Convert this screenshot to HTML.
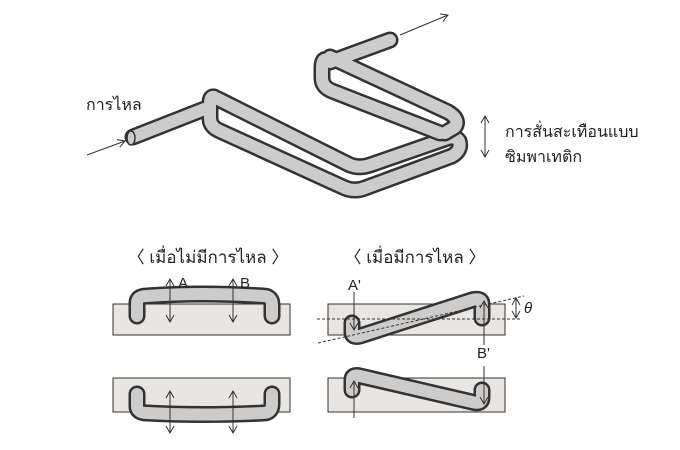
<!DOCTYPE html>
<html><head><meta charset="utf-8"><style>
body{margin:0;background:#fff}
svg{display:block}
text{font-family:"Liberation Sans","DejaVu Sans",sans-serif;fill:#222}
</style></head><body>
<svg width="680" height="450" viewBox="0 0 680 450" xmlns="http://www.w3.org/2000/svg">
<defs>
<marker id="ah" markerWidth="10" markerHeight="10" refX="8" refY="5" orient="auto" markerUnits="userSpaceOnUse">
<path d="M1,1 L8,5 L1,9" fill="none" stroke="#333" stroke-width="1"/></marker>
</defs>
<g fill="none" stroke-linecap="round" stroke-linejoin="round">
<path d="M133,137 L207,108 M214,97 Q210,96 210,104 L210,118 Q210,127 220,131 L345,188 Q355,192 365,188 L452,156 Q462,150 459,141 Q455,135 445,139 L370,165 Q358,169 348,164 L220,100 Q210,94 210,104" stroke="#333" stroke-width="17"/>
<path d="M133,137 L207,108 M214,97 Q210,96 210,104 L210,118 Q210,127 220,131 L345,188 Q355,192 365,188 L452,156 Q462,150 459,141 Q455,135 445,139 L370,165 Q358,169 348,164 L220,100 Q210,94 210,104" stroke="#ccc" stroke-width="12"/>
<path d="M390,40 L330,62 Q322,55 322,68 L322,78 Q322,87 332,91 L440,133 M330,57 L448,112 Q460,119 455,127 L445,133" stroke="#333" stroke-width="17"/>
<path d="M390,40 L330,62 Q322,55 322,68 L322,78 Q322,87 332,91 L440,133 M330,57 L448,112 Q460,119 455,127 L445,133" stroke="#ccc" stroke-width="12"/>
</g>
<ellipse cx="131" cy="138" rx="4" ry="7" fill="#ccc" stroke="#333" stroke-width="1.5"/>
<line x1="87" y1="155" x2="125" y2="141" stroke="#333" stroke-width="1" marker-end="url(#ah)"/>
<line x1="400" y1="35" x2="448" y2="15" stroke="#333" stroke-width="1" marker-end="url(#ah)"/>
<text x="86" y="110" font-size="16">การไหล</text>
<line x1="485" y1="120" x2="485" y2="157" stroke="#333" stroke-width="1" marker-end="url(#ah)"/>
<line x1="485" y1="140" x2="485" y2="116" stroke="#333" stroke-width="1" marker-end="url(#ah)"/>
<text x="505" y="137" font-size="16">การสั่นสะเทือนแบบ</text>
<text x="505" y="162" font-size="16">ซิมพาเทติก</text>

<text x="208" y="263" font-size="17" text-anchor="middle">〈 เมื่อไม่มีการไหล 〉</text>
<text x="415" y="263" font-size="17" text-anchor="middle">〈 เมื่อมีการไหล 〉</text>

<g fill="#e8e5e2" stroke="#333" stroke-width="1">
<rect x="113" y="304" width="177" height="31"/>
<rect x="113" y="378" width="177" height="34"/>
<rect x="328" y="304" width="177" height="31"/>
<rect x="328" y="378" width="177" height="34"/>
</g>
<g fill="none" stroke-linecap="round" stroke-linejoin="round">
<path d="M137,316 L137,303 Q137,296 147,296 Q200,292 263,296 Q272,296 272,305 L272,316" stroke="#333" stroke-width="17"/>
<path d="M137,316 L137,303 Q137,296 147,296 Q200,292 263,296 Q272,296 272,305 L272,316" stroke="#ccc" stroke-width="12"/>
<path d="M137,394 L137,406 Q137,413 147,413 Q200,416 263,413 Q272,413 272,404 L272,394" stroke="#333" stroke-width="17"/>
<path d="M137,394 L137,406 Q137,413 147,413 Q200,416 263,413 Q272,413 272,404 L272,394" stroke="#ccc" stroke-width="12"/>
<path d="M352,323 L352,332 Q352,338 360,336 L472,300 Q482,297 482,305 L482,318" stroke="#333" stroke-width="17"/>
<path d="M352,323 L352,332 Q352,338 360,336 L472,300 Q482,297 482,305 L482,318" stroke="#ccc" stroke-width="12"/>
<path d="M352,390 L352,380 Q352,374 360,376 L472,402 Q482,405 482,397 L482,390" stroke="#333" stroke-width="17"/>
<path d="M352,390 L352,380 Q352,374 360,376 L472,402 Q482,405 482,397 L482,390" stroke="#ccc" stroke-width="12"/>
</g>
<g stroke="#333" stroke-width="1" fill="none">
<line x1="170" y1="300" x2="170" y2="322" marker-end="url(#ah)"/><line x1="170" y1="300" x2="170" y2="279" marker-end="url(#ah)"/>
<line x1="233" y1="300" x2="233" y2="322" marker-end="url(#ah)"/><line x1="233" y1="300" x2="233" y2="279" marker-end="url(#ah)"/>
<line x1="170" y1="410" x2="170" y2="433" marker-end="url(#ah)"/><line x1="170" y1="410" x2="170" y2="391" marker-end="url(#ah)"/>
<line x1="233" y1="410" x2="233" y2="433" marker-end="url(#ah)"/><line x1="233" y1="410" x2="233" y2="391" marker-end="url(#ah)"/>
<line x1="354" y1="292" x2="354" y2="330" marker-end="url(#ah)"/>
<line x1="484" y1="345" x2="484" y2="301" marker-end="url(#ah)"/>
<line x1="354" y1="418" x2="354" y2="381" marker-end="url(#ah)"/>
<line x1="484" y1="366" x2="484" y2="404" marker-end="url(#ah)"/>
<line x1="317" y1="319" x2="522" y2="319" stroke-dasharray="3,2"/>
<line x1="318" y1="343" x2="524" y2="296" stroke-dasharray="3,2"/>
<line x1="516" y1="308" x2="516" y2="318" marker-end="url(#ah)"/><line x1="516" y1="308" x2="516" y2="298" marker-end="url(#ah)"/>
</g>
<text x="178" y="288" font-size="15">A</text>
<text x="240" y="288" font-size="15">B</text>
<text x="348" y="290" font-size="15">A'</text>
<text x="477" y="358" font-size="15">B'</text>
<text x="524" y="313" font-size="15" font-style="italic">θ</text>
</svg>
</body></html>
